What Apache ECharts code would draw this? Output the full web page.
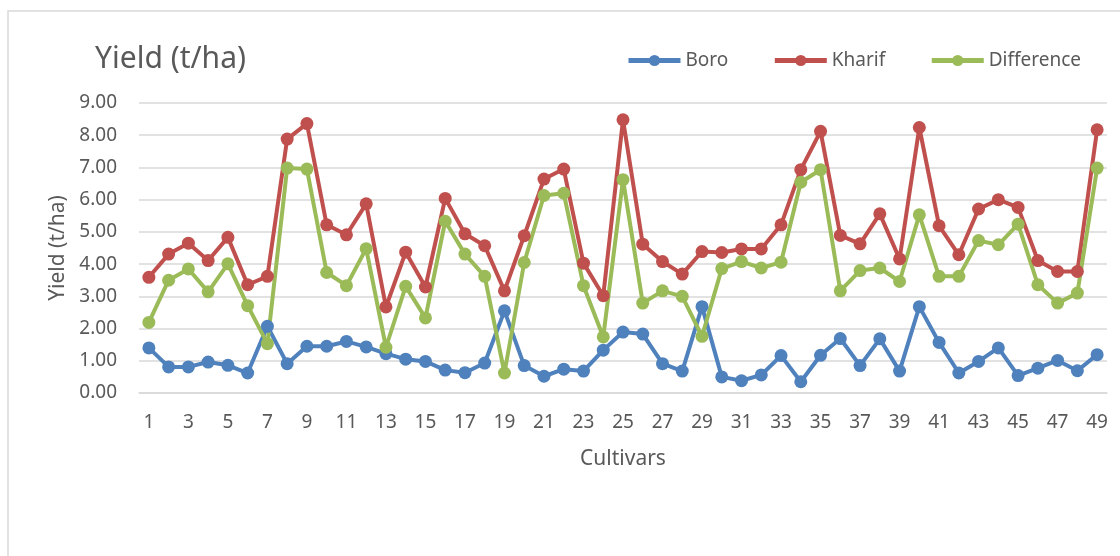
<!DOCTYPE html>
<html>
<head>
<meta charset="utf-8">
<title>Yield (t/ha)</title>
<script src="https://cdn.jsdelivr.net/npm/echarts@6/dist/echarts.min.js"></script>
<style>
  html, body { margin: 0; padding: 0; background: #ffffff; }
  #chart { width: 1120px; height: 556px; }
</style>
</head>
<body>
<div id="chart"></div>
<script>
// Cultivar numbers 1..49
const cultivars = [
  '1','2','3','4','5','6','7','8','9','10',
  '11','12','13','14','15','16','17','18','19','20',
  '21','22','23','24','25','26','27','28','29','30',
  '31','32','33','34','35','36','37','38','39','40',
  '41','42','43','44','45','46','47','48','49'
];

// Yield in the Boro season (t/ha)
const boro = [
  1.40, 0.81, 0.81, 0.96, 0.86, 0.62, 2.07, 0.91, 1.45, 1.45,
  1.60, 1.43, 1.22, 1.05, 0.98, 0.71, 0.63, 0.93, 2.55, 0.85,
  0.52, 0.74, 0.68, 1.33, 1.89, 1.83, 0.91, 0.68, 2.68, 0.50,
  0.38, 0.56, 1.16, 0.35, 1.17, 1.69, 0.85, 1.68, 0.68, 2.68,
  1.57, 0.62, 0.98, 1.40, 0.54, 0.77, 1.01, 0.69, 1.19
];

// Yield in the Kharif season (t/ha)
const kharif = [
  3.59, 4.31, 4.65, 4.11, 4.83, 3.36, 3.62, 7.88, 8.36, 5.22,
  4.91, 5.87, 2.67, 4.37, 3.29, 6.04, 4.94, 4.57, 3.17, 4.88,
  6.64, 6.95, 4.03, 3.02, 8.48, 4.62, 4.08, 3.69, 4.39, 4.36,
  4.47, 4.47, 5.22, 6.93, 8.12, 4.89, 4.63, 5.56, 4.16, 8.24,
  5.19, 4.29, 5.71, 6.00, 5.76, 4.11, 3.77, 3.77, 8.17
];

// Kharif minus Boro (t/ha)
const difference = [
  2.19, 3.50, 3.85, 3.14, 4.01, 2.71, 1.53, 6.98, 6.95, 3.74,
  3.33, 4.48, 1.42, 3.31, 2.33, 5.33, 4.31, 3.62, 0.62, 4.05,
  6.13, 6.20, 3.33, 1.74, 6.62, 2.79, 3.17, 3.00, 1.76, 3.86,
  4.08, 3.88, 4.06, 6.54, 6.93, 3.17, 3.80, 3.88, 3.46, 5.53,
  3.62, 3.62, 4.73, 4.60, 5.24, 3.36, 2.79, 3.10, 6.98
];

const seriesNames = ['Boro', 'Kharif', 'Difference'];
const seriesColors = ['#4F81BD', '#C0504D', '#9BBB59'];
const seriesData = [boro, kharif, difference];

const FONT = '"Noto Sans", "Open Sans", sans-serif';
const TEXT = '#595959';
const GRID = '#D9D9D9';

const chart = echarts.init(document.getElementById('chart'), null, { renderer: 'canvas' });

chart.setOption({
  animation: false,
  backgroundColor: '#ffffff',
  textStyle: { fontFamily: FONT, color: TEXT },
  title: {
    text: 'Yield (t/ha)',
    left: 90,
    top: 39,
    textStyle: { fontFamily: FONT, fontSize: 30, fontWeight: 'normal', color: TEXT }
  },
  legend: {
    data: seriesNames,
    left: 621,
    top: 46,
    itemWidth: 52,
    itemHeight: 14,
    itemGap: 44,
    lineStyle: { width: 5 },
    textStyle: { fontFamily: FONT, fontSize: 19, color: TEXT }
  },
  graphic: [
    {
      type: 'polyline',
      shape: { points: [[8, 556], [8, 11], [1120, 11]] },
      style: { stroke: GRID, lineWidth: 1.5, fill: null },
      silent: true
    }
  ],
  grid: { left: 139, right: 13, top: 103, bottom: 163, containLabel: false },
  xAxis: {
    type: 'category',
    data: cultivars,
    boundaryGap: true,
    name: 'Cultivars',
    nameLocation: 'middle',
    nameGap: 56,
    nameTextStyle: { fontFamily: FONT, fontSize: 21, color: TEXT },
    axisLine: { show: true, lineStyle: { color: GRID, width: 1.5 } },
    axisTick: { show: false },
    axisLabel: { interval: 1, margin: 20, fontFamily: FONT, fontSize: 19, color: TEXT },
    splitLine: { show: false }
  },
  yAxis: {
    type: 'value',
    min: 0,
    max: 9,
    interval: 1,
    name: 'Yield (t/ha)',
    nameLocation: 'middle',
    nameRotate: 90,
    nameGap: 64,
    nameTextStyle: { fontFamily: FONT, fontSize: 21, color: TEXT },
    axisLine: { show: false },
    axisTick: { show: false },
    axisLabel: {
      margin: 22,
      fontFamily: FONT,
      fontSize: 19,
      color: TEXT,
      formatter: v => v.toFixed(2)
    },
    splitLine: { show: true, lineStyle: { color: GRID, width: 1.5 } }
  },
  series: seriesNames.map((name, i) => ({
    name: name,
    type: 'line',
    data: seriesData[i],
    symbol: 'circle',
    symbolSize: 13,
    color: seriesColors[i],
    lineStyle: { width: 4, color: seriesColors[i] },
    itemStyle: { color: seriesColors[i] },
    emphasis: { disabled: true }
  }))
});
</script>
</body>
</html>
